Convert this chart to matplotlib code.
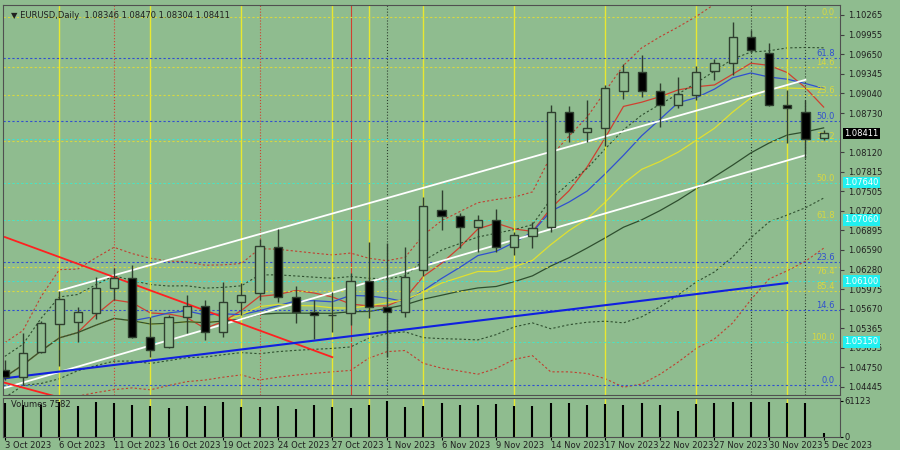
import numpy as np
import pandas as pd
import matplotlib
matplotlib.use("Agg")
import matplotlib.pyplot as plt

# === data ===
dates = ["3 Oct", "4 Oct", "5 Oct", "6 Oct", "9 Oct", "10 Oct", "11 Oct", "12 Oct", "13 Oct",
         "16 Oct", "17 Oct", "18 Oct", "19 Oct", "20 Oct", "23 Oct", "24 Oct", "25 Oct", "26 Oct",
         "27 Oct", "30 Oct", "31 Oct", "1 Nov", "2 Nov", "3 Nov", "6 Nov", "7 Nov", "8 Nov", "9 Nov",
         "10 Nov", "13 Nov", "14 Nov", "15 Nov", "16 Nov", "17 Nov", "20 Nov", "21 Nov", "22 Nov",
         "23 Nov", "24 Nov", "27 Nov", "28 Nov", "29 Nov", "30 Nov", "1 Dec", "4 Dec", "5 Dec"]
opens = [1.0471, 1.0460, 1.0499, 1.0543, 1.0546, 1.0560, 1.0599, 1.0615, 1.0523, 1.0507, 1.0554, 1.0571,
         1.0530, 1.0577, 1.0591, 1.0663, 1.0585, 1.0562, 1.0557, 1.0560, 1.0610, 1.0570, 1.0562, 1.0627,
         1.0721, 1.0712, 1.0695, 1.0706, 1.0663, 1.0681, 1.0695, 1.0875, 1.0843, 1.0850, 1.0908, 1.0937,
         1.0908, 1.0886, 1.0901, 1.0939, 1.0951, 1.0992, 1.0967, 1.0886, 1.0875, 1.08346]
closes = [1.0460, 1.0498, 1.0545, 1.0582, 1.0562, 1.0599, 1.0615, 1.0523, 1.0502, 1.0554, 1.0571, 1.0530,
          1.0577, 1.0588, 1.0665, 1.0585, 1.0562, 1.0557, 1.0557, 1.0610, 1.0570, 1.0562, 1.0617, 1.0728,
          1.0712, 1.0695, 1.0706, 1.0663, 1.0682, 1.0693, 1.0875, 1.0843, 1.0850, 1.0912, 1.0937, 1.0908,
          1.0886, 1.0903, 1.0937, 1.0951, 1.0992, 1.0972, 1.0886, 1.0881, 1.0832, 1.08411]
highs = [1.0487, 1.0529, 1.0548, 1.0595, 1.0570, 1.0617, 1.0631, 1.0635, 1.0554, 1.0557, 1.0588, 1.0580,
         1.0609, 1.0607, 1.0676, 1.0692, 1.0602, 1.0580, 1.0593, 1.0623, 1.0671, 1.0670, 1.0663, 1.0742,
         1.0753, 1.0717, 1.0714, 1.0723, 1.0687, 1.0703, 1.0886, 1.0884, 1.0894, 1.0917, 1.0950, 1.0964,
         1.0920, 1.0929, 1.0947, 1.0958, 1.1016, 1.1003, 1.0983, 1.0909, 1.0894, 1.08470]
lows = [1.0455, 1.0447, 1.0498, 1.0477, 1.0515, 1.0551, 1.0580, 1.0521, 1.0491, 1.0505, 1.0529, 1.0518,
        1.0523, 1.0557, 1.0580, 1.0577, 1.0545, 1.0519, 1.0530, 1.0541, 1.0552, 1.0491, 1.0554, 1.0618,
        1.0690, 1.0662, 1.0656, 1.0656, 1.0651, 1.0662, 1.0687, 1.0828, 1.0828, 1.0822, 1.0895, 1.0898,
        1.0851, 1.0881, 1.0894, 1.0925, 1.0933, 1.0969, 1.0884, 1.0826, 1.0803, 1.08304]
volumes = [58000, 55000, 54000, 60000, 52000, 59000, 57000, 54000, 53000, 49000, 52000, 52000, 60000,
           50000, 50000, 52000, 48000, 55000, 50000, 49000, 55000, 61000, 51000, 52000, 57000, 55000,
           54000, 56000, 53000, 52000, 58000, 57000, 55000, 56000, 54000, 57000, 55000, 44000, 56000,
           57000, 60000, 59000, 59000, 58000, 58000, 7582]

price_ticks = [1.10265, 1.09955, 1.09650, 1.09345, 1.09040, 1.08730, 1.08120, 1.07815, 1.07505,
               1.07200, 1.06895, 1.06590, 1.06280, 1.05975, 1.05670, 1.05365, 1.05055, 1.04750, 1.04445]
date_ticks = ["3 Oct 2023", "6 Oct 2023", "11 Oct 2023", "16 Oct 2023", "19 Oct 2023", "24 Oct 2023",
              "27 Oct 2023", "1 Nov 2023", "6 Nov 2023", "9 Nov 2023", "14 Nov 2023", "17 Nov 2023",
              "22 Nov 2023", "27 Nov 2023", "30 Nov 2023", "5 Dec 2023"]

fib_yellow = {"0.0": 1.1023, "14.6": 1.0945, "23.6": 1.0901, "38.2": 1.0829, "50.0": 1.0764,
              "61.8": 1.0706, "76.4": 1.0632, "85.4": 1.0595, "100.0": 1.0515}
fib_blue = {"61.8": 1.0959, "50.0": 1.0861, "23.6": 1.0640, "14.6": 1.0565, "0.0": 1.0447}
cyan_levels = [1.0832, 1.0764, 1.0706, 1.0610, 1.0515]

# trend lines: (bar0, price0, bar1, price1)
white_lines = [(3, 1.0595, 44, 1.0925), (0, 1.0443, 44, 1.0807)]
red_lines = [(0, 1.0679, 18, 1.0491), (0, 1.0451, 3, 1.0428)]
blue_line = (0, 1.0458, 43, 1.0607)

vlines_yellow = [3, 8, 13, 18, 20, 23, 28, 33, 38, 43]
vlines_reddot = [6, 14]
vlines_red = [19]
vlines_dark = [21, 41, 44]

BG = "#8fbc8f"
EDGE = "#2f3f2f"

fig = plt.figure(figsize=(9, 4.5), dpi=100, facecolor=BG)
ax = fig.add_axes([3 / 900, 1 - 395 / 450, 837 / 900, 390 / 450], facecolor=BG)
axv = fig.add_axes([3 / 900, 1 - 437 / 450, 837 / 900, 39 / 450], facecolor=BG)

n = len(closes)
x = np.arange(n)
o, c, h, l = map(np.array, (opens, closes, highs, lows))

# moving averages and bands
cs = pd.Series(closes)
ax.plot(x, cs.rolling(5, min_periods=1).mean(), color="#d04030", lw=0.9)
ax.plot(x, cs.rolling(8, min_periods=1).mean(), color="#3050d0", lw=0.9)
ax.plot(x, cs.rolling(13, min_periods=1).mean(), color="#e0e030", lw=0.9)
ax.plot(x, cs.rolling(21, min_periods=1).mean(), color="#2f4f2f", lw=0.9)
mid = cs.rolling(20, min_periods=1).mean()
sd = cs.rolling(20, min_periods=2).std().bfill()
ax.plot(x, mid + 2 * sd, color="#c04030", lw=0.8, ls=(0, (2, 2)))
ax.plot(x, mid - 2 * sd, color="#c04030", lw=0.8, ls=(0, (2, 2)))
ax.plot(x, mid + 1.2 * sd, color="#2f4f2f", lw=0.8, ls=(0, (2, 2)))
ax.plot(x, mid - 1.2 * sd, color="#2f4f2f", lw=0.8, ls=(0, (2, 2)))

# vertical markers
for v in vlines_yellow:
    ax.axvline(v, color="#e8e830", lw=1)
    axv.axvline(v, color="#e8e830", lw=1)
for v in vlines_reddot:
    ax.axvline(v, color="#d04030", lw=0.8, ls=":")
for v in vlines_red:
    ax.axvline(v, color="#d04030", lw=0.8)
for v in vlines_dark:
    ax.axvline(v, color="#304030", lw=0.8, ls=":")

# fib levels
for lab, p in fib_yellow.items():
    ax.axhline(p, color="#d8d840", lw=0.8, ls=(0, (2, 2)))
    ax.text(45.6, p, lab, color="#d8d840", fontsize=6, ha="right",
            va="top" if lab == "76.4" else "bottom")
for lab, p in fib_blue.items():
    ax.axhline(p, color="#3050d0", lw=0.8, ls=(0, (2, 2)))
    ax.text(45.6, p, lab, color="#3050d0", fontsize=6, ha="right", va="bottom")
for p in cyan_levels:
    ax.axhline(p, color="#40e0d0", lw=0.8, ls=(0, (2, 2)))

for x0, p0, x1, p1 in white_lines:
    ax.plot([x0, x1], [p0, p1], color="white", lw=1.3)
for x0, p0, x1, p1 in red_lines:
    ax.plot([x0, x1], [p0, p1], color="#ff2020", lw=1.3)
ax.plot([blue_line[0], blue_line[2]], [blue_line[1], blue_line[3]], color="#1020e0", lw=1.5)

# candles
up = c >= o
ax.vlines(x, l, h, color=EDGE, lw=1, zorder=4)
ax.bar(x[up], (c - o)[up], bottom=o[up], width=0.45, color=BG, edgecolor=EDGE, lw=1, zorder=5)
ax.bar(x[~up], (o - c)[~up], bottom=c[~up], width=0.45, color="black", edgecolor=EDGE, lw=1, zorder=5)

ax.set_xlim(-0.1, 45.9)
ax.set_ylim(1.04318, 1.10421)
ax.set_xticks([])
ax.yaxis.tick_right()
ax.set_yticks(price_ticks)
ax.set_yticklabels([f"{p:.5f}" for p in price_ticks], fontsize=6, color="#202020")
ax.tick_params(axis="y", length=3, color="#404040", pad=3)
for s in ax.spines.values():
    s.set_color("#505050")

ax.text(0.01, 0.985, "\u25bc EURUSD,Daily  1.08346 1.08470 1.08304 1.08411", transform=ax.transAxes,
        fontsize=6, va="top", color="#202020")

# price boxes on the axis
ax.text(1.005, closes[-1], f"{closes[-1]:.5f}", transform=ax.get_yaxis_transform(), fontsize=6,
        color="white", va="center", bbox=dict(boxstyle="square,pad=0.15", fc="black", ec="none"))
for p in cyan_levels[1:]:
    ax.text(1.005, p, f"{p:.5f}", transform=ax.get_yaxis_transform(), fontsize=6, color="white",
            va="center", bbox=dict(boxstyle="square,pad=0.15", fc="#20f0f0", ec="none"))

# volumes
axv.vlines(x, 0, volumes, color="black", lw=1.5)
axv.set_xlim(-0.1, 45.9)
axv.set_ylim(0, 66000)
axv.yaxis.tick_right()
axv.set_yticks([0, 61123])
axv.set_yticklabels(["0", "61123"], fontsize=6, color="#202020")
axv.set_xticks([dates.index(d.rsplit(" ", 1)[0]) for d in date_ticks])
axv.set_xticklabels(date_ticks, fontsize=6, color="#202020", ha="left")
axv.tick_params(length=2, pad=1)
for s in axv.spines.values():
    s.set_color("#505050")
axv.text(0.01, 0.95, "Volumes 7582", transform=axv.transAxes, fontsize=6, va="top", color="#202020")

fig.savefig("out.png", dpi=100, facecolor=BG)
